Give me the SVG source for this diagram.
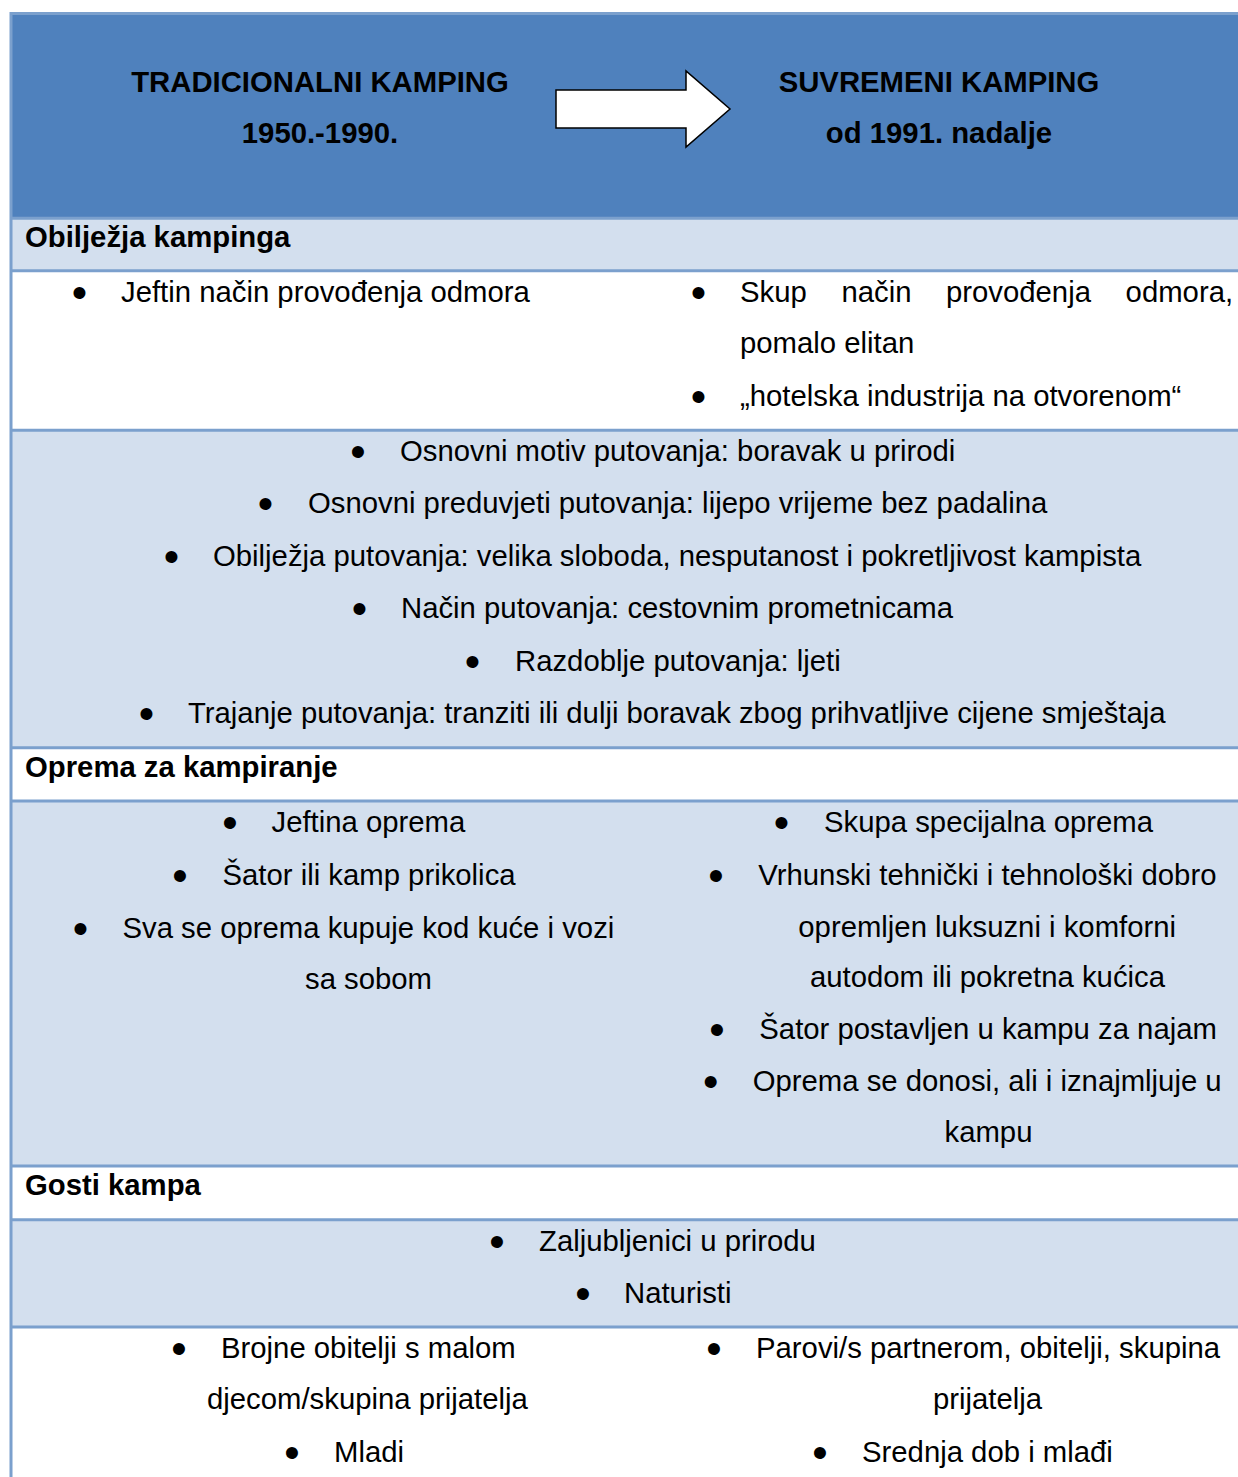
<svg xmlns="http://www.w3.org/2000/svg" width="1238" height="1477" viewBox="0 0 1238 1477">
<style>
.t{font-family:"Liberation Sans",Arial,sans-serif;font-size:29.3px;fill:#000}
.b{font-family:"Liberation Sans",Arial,sans-serif;font-size:29.3px;font-weight:bold;fill:#000}
.h{font-family:"Liberation Sans",Arial,sans-serif;font-size:29.3px;font-weight:bold;fill:#000;text-anchor:middle}
.m{font-family:"Liberation Sans",Arial,sans-serif;font-size:44px;fill:#000;text-anchor:middle}
.ln{stroke:#7BA0CD;stroke-width:3;fill:none}
.lt{fill:#D3DFEE}
.wh{fill:#FFFFFF}
</style>
<rect x="0" y="0" width="1238" height="1477" fill="#fff"/>
<g id="backgrounds">
<rect x="11" y="13" width="1227" height="205" fill="#4F81BD"/>
<rect class="lt" x="11" y="218" width="1227" height="52"/>
<rect class="lt" x="11" y="430" width="1227" height="318"/>
<rect class="lt" x="11" y="801" width="1227" height="365"/>
<rect class="lt" x="11" y="1219" width="1227" height="108"/>
</g>
<g id="grid">
<line class="ln" x1="11" y1="13.5" x2="1238" y2="13.5"/>
<line class="ln" x1="11" y1="12" x2="11" y2="1477"/>
<line class="ln" x1="11" y1="218.3" x2="1238" y2="218.3"/>
<line class="ln" x1="11" y1="270.7" x2="1238" y2="270.7"/>
<line class="ln" x1="11" y1="430.3" x2="1238" y2="430.3"/>
<line class="ln" x1="11" y1="747.7" x2="1238" y2="747.7"/>
<line class="ln" x1="11" y1="801" x2="1238" y2="801"/>
<line class="ln" x1="11" y1="1166" x2="1238" y2="1166"/>
<line class="ln" x1="11" y1="1219.7" x2="1238" y2="1219.7"/>
<line class="ln" x1="11" y1="1327" x2="1238" y2="1327"/>
</g>
<g id="header-left">
<text class="h" x="320" y="91.7">TRADICIONALNI KAMPING</text>
<text class="h" x="320" y="143">1950.-1990.</text>
</g>
<g id="header-right">
<text class="h" x="939" y="91.7">SUVREMENI KAMPING</text>
<text class="h" x="939" y="143">od 1991. nadalje</text>
</g>
<g id="connectors">
<polygon points="556,90 686,90 686,71 730,109 686,147 686,128 556,128" fill="#fff" stroke="#000" stroke-width="1.5" stroke-linejoin="miter"/>
</g>
<g id="heading-obiljezja"><text class="b" x="25" y="247">Obilježja kampinga</text></g>
<g id="obiljezja-left">
<text class="m" x="79.5" y="308">•</text>
<text class="t" x="121" y="302">Jeftin način provođenja odmora</text>
</g>
<g id="obiljezja-right">
<text class="m" x="698.5" y="308">•</text>
<text class="t" y="302"><tspan x="740">Skup</tspan><tspan x="841.4">način</tspan><tspan x="946">provođenja</tspan><tspan x="1125.6">odmora,</tspan></text>
<text class="t" x="740" y="353">pomalo elitan</text>
<text class="m" x="698.5" y="411.5">•</text>
<text class="t" x="740" y="405.5">„hotelska industrija na otvorenom“</text>
</g>
<g id="zajednicko">
<text class="m" x="358" y="466.5">•</text>
<text class="t" x="400" y="460.5">Osnovni motiv putovanja: boravak u prirodi</text>
<text class="m" x="265.5" y="519">•</text>
<text class="t" x="308" y="513">Osnovni preduvjeti putovanja: lijepo vrijeme bez padalina</text>
<text class="m" x="171.5" y="571.5">•</text>
<text class="t" x="213" y="565.5">Obilježja putovanja: velika sloboda, nesputanost i pokretljivost kampista</text>
<text class="m" x="359.5" y="624">•</text>
<text class="t" x="401" y="618">Način putovanja: cestovnim prometnicama</text>
<text class="m" x="472.5" y="676.5">•</text>
<text class="t" x="515" y="670.5">Razdoblje putovanja: ljeti</text>
<text class="m" x="146.5" y="729">•</text>
<text class="t" x="188" y="723">Trajanje putovanja: tranziti ili dulji boravak zbog prihvatljive cijene smještaja</text>
</g>
<g id="heading-oprema"><text class="b" x="25" y="777">Oprema za kampiranje</text></g>
<g id="oprema-left">
<text class="m" x="230" y="838">•</text>
<text class="t" x="271.5" y="832">Jeftina oprema</text>
<text class="m" x="180" y="891">•</text>
<text class="t" x="222.5" y="885">Šator ili kamp prikolica</text>
<text class="m" x="80.5" y="943.5">•</text>
<text class="t" x="122.5" y="937.5">Sva se oprema kupuje kod kuće i vozi</text>
<text class="t" x="305" y="988.5">sa sobom</text>
</g>
<g id="oprema-right">
<text class="m" x="781.5" y="838">•</text>
<text class="t" x="824" y="832">Skupa specijalna oprema</text>
<text class="m" x="716" y="891">•</text>
<text class="t" x="758.3" y="885">Vrhunski tehnički i tehnološki dobro</text>
<text class="t" x="798.3" y="936.5">opremljen luksuzni i komforni</text>
<text class="t" x="810" y="986.5">autodom ili pokretna kućica</text>
<text class="m" x="717" y="1045">•</text>
<text class="t" x="759.3" y="1039">Šator postavljen u kampu za najam</text>
<text class="m" x="710.7" y="1097">•</text>
<text class="t" x="752.7" y="1091">Oprema se donosi, ali i iznajmljuje u</text>
<text class="t" x="944.5" y="1142">kampu</text>
</g>
<g id="heading-gosti"><text class="b" x="25" y="1194.5">Gosti kampa</text></g>
<g id="gosti-zajednicko">
<text class="m" x="497" y="1256.5">•</text>
<text class="t" x="539" y="1250.5">Zaljubljenici u prirodu</text>
<text class="m" x="583" y="1309">•</text>
<text class="t" x="624" y="1303">Naturisti</text>
</g>
<g id="gosti-left">
<text class="m" x="179" y="1364">•</text>
<text class="t" x="221" y="1358">Brojne obitelji s malom</text>
<text class="t" x="207" y="1409">djecom/skupina prijatelja</text>
<text class="m" x="292" y="1468">•</text>
<text class="t" x="334" y="1462">Mladi</text>
</g>
<g id="gosti-right">
<text class="m" x="714" y="1364">•</text>
<text class="t" x="756" y="1358">Parovi/s partnerom, obitelji, skupina</text>
<text class="t" x="933" y="1409">prijatelja</text>
<text class="m" x="820" y="1468">•</text>
<text class="t" x="862" y="1462">Srednja dob i mlađi</text>
</g>
</svg>
